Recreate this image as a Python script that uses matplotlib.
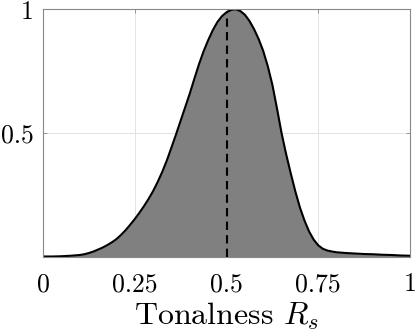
import numpy as np
import matplotlib
matplotlib.use('Agg')
import matplotlib.pyplot as plt

plt.rcParams['font.family'] = ['cmr10', 'DejaVu Serif']
plt.rcParams['mathtext.fontset'] = 'cm'
plt.rcParams['axes.formatter.use_mathtext'] = True

# tonalness distribution
tonalness = [0, 0.025, 0.05, 0.075, 0.1, 0.1125, 0.125, 0.1375, 0.15, 0.1625,
             0.175, 0.1875, 0.2, 0.2125, 0.225, 0.2375, 0.25, 0.2625, 0.275, 0.2875,
             0.3, 0.3125, 0.325, 0.3375, 0.35, 0.3625, 0.375, 0.3875, 0.4, 0.4125,
             0.425, 0.4375, 0.45, 0.4625, 0.475, 0.4875, 0.5, 0.5125, 0.525, 0.5375,
             0.55, 0.5625, 0.575, 0.5875, 0.6, 0.6125, 0.625, 0.6375, 0.65, 0.6625,
             0.675, 0.6875, 0.7, 0.7125, 0.725, 0.7375, 0.75, 0.7625, 0.775, 0.7875,
             0.8, 0.825, 0.85, 0.875, 0.9, 0.925, 0.95, 0.975, 1.0]
density = [0.002, 0.002, 0.003, 0.005, 0.008, 0.011, 0.016, 0.022, 0.030, 0.038,
           0.048, 0.059, 0.072, 0.089, 0.108, 0.130, 0.153, 0.178, 0.205, 0.234,
           0.266, 0.303, 0.344, 0.390, 0.442, 0.495, 0.550, 0.605, 0.660, 0.720,
           0.778, 0.830, 0.875, 0.915, 0.948, 0.972, 0.988, 0.997, 1.000, 0.993,
           0.978, 0.953, 0.920, 0.880, 0.832, 0.770, 0.695, 0.600, 0.500, 0.415,
           0.338, 0.265, 0.200, 0.147, 0.103, 0.070, 0.047, 0.033, 0.026, 0.022,
           0.019, 0.016, 0.014, 0.012, 0.011, 0.009, 0.008, 0.006, 0.005]
markerX = 0.5
markerY = 0.988

xTicks = [0, 0.25, 0.5, 0.75, 1]
xTickLabels = ['0', '0.25', '0.5', '0.75', '1']
yTicks = [0.5, 1]
yTickLabels = ['0.5', '1']

fig = plt.figure(figsize=(4.15, 3.31), dpi=100)
ax = fig.add_axes([0.1036, 0.2236, 0.8844, 0.7484])

ax.fill_between(tonalness, density, 0, color='#808080', linewidth=0)
ax.plot(tonalness, density, color='black', linewidth=1.5)
ax.plot([markerX, markerX], [0, markerY], color='black', linewidth=1.5,
        dashes=(4, 2.5))

ax.set_xlim(0, 1)
ax.set_ylim(0, 1)
ax.set_xticks(xTicks)
ax.set_xticklabels(xTickLabels)
ax.set_yticks(yTicks)
ax.set_yticklabels(yTickLabels)
ax.grid(True, color='#e3e3e3', linewidth=0.7)
ax.set_axisbelow(True)
ax.tick_params(direction='in', length=3, width=0.6, color='#888888',
               top=True, right=True, labelsize=18.5)
ax.tick_params(axis='x', pad=11)
ax.tick_params(axis='y', pad=7)
for s in ax.spines.values():
    s.set_color('#888888')
    s.set_linewidth(0.8)

ax.set_xlabel('Tonalness $R_s$', fontsize=23, labelpad=3.5)

fig.savefig('out.png', dpi=100)
